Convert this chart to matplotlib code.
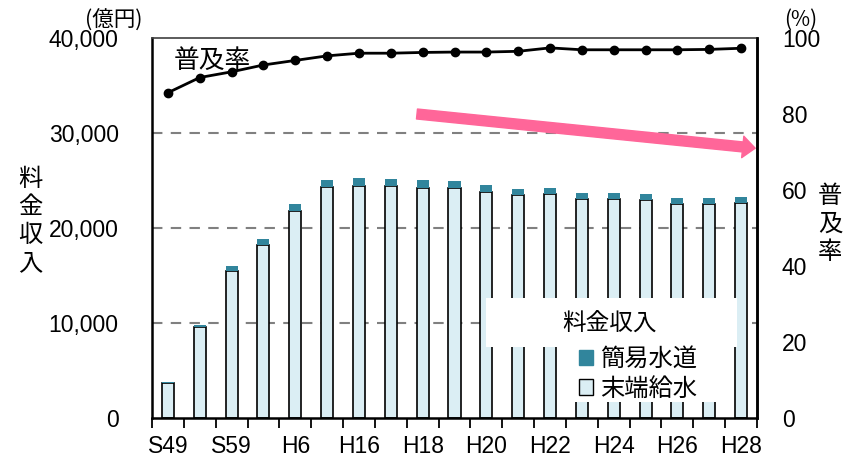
import matplotlib.pyplot as plt
import matplotlib.patches as mpatches
import numpy as np

plt.rcParams['font.family'] = ['Liberation Sans', 'Noto Sans CJK JP', 'DejaVu Sans']

years = ['S49', 'S54', 'S59', 'H1', 'H6', 'H11', 'H16', 'H17', 'H18', 'H19',
         'H20', 'H21', 'H22', 'H23', 'H24', 'H25', 'H26', 'H27', 'H28']
# 料金収入 (億円)
suetan = [3650, 9540, 15510, 18180, 21790, 24280, 24460, 24390, 24180, 24180,
          23750, 23440, 23580, 23020, 23020, 22910, 22530, 22560, 22630]
kan_i = [140, 280, 520, 660, 740, 800, 800, 770, 840, 770,
         740, 670, 670, 630, 630, 630, 630, 600, 630]
# 普及率 (%)
fukyu = [85.6, 89.6, 91.1, 92.9, 94.1, 95.3, 96.0, 96.0, 96.2, 96.3,
         96.3, 96.5, 97.4, 96.9, 96.9, 96.9, 96.9, 97.0, 97.3]

light = '#DBEEF4'
teal = '#31859C'
jp = ['Noto Sans CJK JP', 'DejaVu Sans']

fig = plt.figure(figsize=(8.43, 4.61), dpi=100)
ax = fig.add_axes([152 / 843, 1 - 418 / 461, 605 / 843, 380 / 461])
x = np.arange(len(years))

ax.bar(x, suetan, width=0.38, color=light, edgecolor='black', linewidth=1.2,
       label='末端給水', zorder=2)
ax.bar(x, kan_i, width=0.38, bottom=suetan, color=teal, linewidth=0,
       label='簡易水道', zorder=2)

ax.set_xlim(-0.5, len(years) - 0.5)
ax.set_ylim(0, 40000)
ax.set_yticks([0, 10000, 20000, 30000, 40000])
ax.set_yticklabels(['0', '10,000', '20,000', '30,000', '40,000'])
ax.tick_params(axis='y', length=0, pad=24, labelsize=16.5)
for yv in [10000, 20000, 30000]:
    ax.axhline(yv, color='#808080', linestyle=(0, (5, 4)), linewidth=1.5, zorder=1)

ax.set_xticks(x[::2])
ax.set_xticklabels(years[::2])
ax.set_xticks(np.arange(-0.5, len(years), 1), minor=True)
ax.tick_params(axis='x', which='major', length=0, pad=12, labelsize=16.5)
ax.tick_params(axis='x', which='minor', length=7, width=1.3, direction='out')
for s in ['left', 'bottom', 'right']:
    ax.spines[s].set_linewidth(1.8)
ax.spines['top'].set_color('#404040')
ax.spines['top'].set_linewidth(1.2)

ax2 = ax.twinx()
ax2.plot(x, fukyu, color='black', linewidth=2, marker='o', markersize=6, zorder=3)
ax2.set_ylim(0, 100)
ax2.set_yticks([0, 20, 40, 60, 80, 100])
ax2.tick_params(axis='y', length=0, pad=18, labelsize=16.5)
ax2.spines['right'].set_linewidth(1.8)
for s in ['left', 'top', 'bottom']:
    ax2.spines[s].set_visible(False)

ax.text(0.036, 0.94, '普及率', transform=ax.transAxes, fontsize=18.5, family=jp,
        ha='left', va='center')

# trend arrow
ax.annotate('', xy=(0.997, 0.71), xytext=(0.438, 0.80), xycoords='axes fraction',
            arrowprops=dict(arrowstyle='simple,head_length=0.9,head_width=1.55,tail_width=0.72',
                            color='#FF6699', mutation_scale=10, shrinkA=0, shrinkB=0),
            zorder=4)

# legend boxes
ax.add_patch(mpatches.Rectangle((0.552, 0.187), 0.415, 0.129, transform=ax.transAxes,
                                facecolor='white', edgecolor='none', zorder=5))
ax.add_patch(mpatches.Rectangle((0.691, 0.042), 0.271, 0.147, transform=ax.transAxes,
                                facecolor='white', edgecolor='none', zorder=5))
ax.text(0.757, 0.25, '料金収入', transform=ax.transAxes, fontsize=17, family=jp,
        ha='center', va='center', zorder=6)
handles = [mpatches.Patch(facecolor=teal, edgecolor=teal),
           mpatches.Patch(facecolor=light, edgecolor='black', linewidth=1)]
leg = ax.legend(handles, ['簡易水道', '末端給水'], loc='upper left',
                bbox_to_anchor=(0.705, 0.19), frameon=False, borderpad=0,
                borderaxespad=0, handlelength=0.6, handleheight=0.6,
                handletextpad=0.3, labelspacing=0.15, prop={'family': jp, 'size': 17.5})
leg.set_zorder(6)

fig.text(30 / 843, 1 - 221 / 461, '料\n金\n収\n入', fontsize=17.5, family=jp,
         ha='center', va='center', linespacing=1.1)
fig.text(830 / 843, 1 - 224 / 461, '普\n及\n率', fontsize=17.5, family=jp,
         ha='center', va='center', linespacing=1.1)
fig.text(114 / 843, 1 - 21 / 461, '(億円)', fontsize=15.5, family=jp,
         ha='center', va='center')
fig.text(801 / 843, 1 - 20 / 461, '(%)', fontsize=15, family=jp,
         ha='center', va='center')

plt.savefig('out.png', dpi=100)
